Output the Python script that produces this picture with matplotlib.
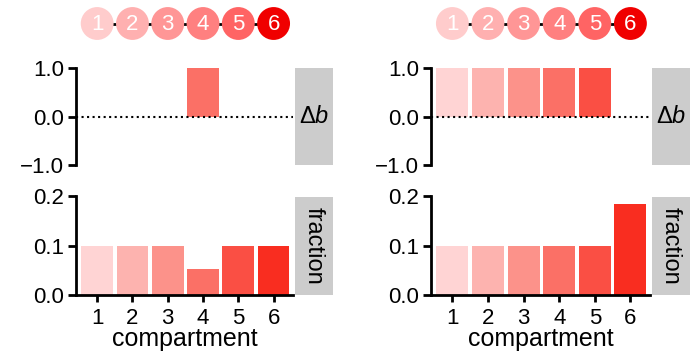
"""
Two cases of compartment boost (delta b) and resulting fraction,
with numbered compartment markers above each panel.
"""

import numpy as np
import matplotlib
matplotlib.use('Agg')
import matplotlib.pyplot as plt
from matplotlib.ticker import FuncFormatter

plt.rcParams['font.family'] = ['Liberation Sans', 'DejaVu Sans']
plt.rcParams['mathtext.fontset'] = 'custom'
plt.rcParams['mathtext.rm'] = 'Liberation Sans'
plt.rcParams['mathtext.it'] = 'Liberation Sans:italic'

# data
compartments = [1, 2, 3, 4, 5, 6]
delta_b_left = [0, 0, 0, 1, 0, 0]
delta_b_right = [1, 1, 1, 1, 1, 0]
fraction_left = [0.1, 0.1, 0.1, 0.053, 0.1, 0.1]
fraction_right = [0.1, 0.1, 0.1, 0.1, 0.1, 0.184]

bar_colors = ['#FFD4D4', '#FDB3AF', '#FC928A', '#FB7066', '#FA4F44', '#F92D20']
circle_colors = ['#FFCCCC', '#FFB0B0', '#FF9696', '#FF8080', '#FF6464', '#F00000']

W, H = 700, 361
FS = 16
fig = plt.figure(figsize=(7, 3.61), dpi=100)


def px_axes(x0, y0, x1, y1):
    """Axes from pixel box (top-left origin)."""
    return fig.add_axes([x0 / W, 1 - y1 / H, (x1 - x0) / W, (y1 - y0) / H])


def fmt(v, pos):
    return f'{v:.1f}'.replace('-', '\u2212')


def style_left(ax):
    for s in ['top', 'right', 'bottom']:
        ax.spines[s].set_visible(False)
    ax.spines['left'].set_linewidth(2)
    ax.tick_params(axis='y', direction='out', length=5.5, width=2,
                   labelsize=FS, pad=3)
    ax.yaxis.set_major_formatter(FuncFormatter(fmt))


def strip(x0, y0, x1, y1, label, rot):
    sax = px_axes(x0, y0, x1, y1)
    sax.set_facecolor('#CCCCCC')
    for s in sax.spines.values():
        s.set_visible(False)
    sax.set_xticks([])
    sax.set_yticks([])
    sax.text(0.5, 0.5, label, fontsize=17, rotation=rot, ha='center',
             va='center', transform=sax.transAxes)


def panel(x0, x1, xs, delta, frac):
    xlim = (0.4, 6.55)

    # compartment markers
    cax = px_axes(x0, 5, x1, 42)
    cax.set_xlim(*xlim)
    cax.set_ylim(-1, 1)
    cax.axis('off')
    cax.plot([1, 6], [0, 0], color='k', lw=2, zorder=1)
    cax.scatter(compartments, np.zeros(6), s=560, c=circle_colors,
                edgecolors='none', zorder=2)
    for c in compartments:
        cax.text(c, -0.05, str(c), color='white', fontsize=FS,
                 ha='center', va='center', zorder=3)

    # delta b
    ax = px_axes(x0, 68, x1, 165)
    ax.bar(compartments, delta, width=0.9, color=bar_colors, zorder=2)
    ax.axhline(0, color='k', ls=':', lw=1.5, zorder=3)
    ax.set_xlim(*xlim)
    ax.set_ylim(-1, 1)
    ax.set_yticks([-1, 0, 1])
    ax.set_xticks([])
    style_left(ax)
    strip(xs, 68, xs + 38, 165, r'$\Delta b$', 0)

    # fraction
    ax2 = px_axes(x0, 196, x1, 295)
    ax2.bar(compartments, frac, width=0.9, color=bar_colors)
    ax2.set_xlim(*xlim)
    ax2.set_ylim(0, 0.2)
    ax2.set_yticks([0, 0.1, 0.2])
    ax2.set_xticks(compartments)
    style_left(ax2)
    ax2.spines['bottom'].set_visible(True)
    ax2.spines['bottom'].set_linewidth(2)
    ax2.tick_params(axis='x', direction='out', length=5, width=2,
                    labelsize=FS, pad=4)
    ax2.set_xlabel('compartment', fontsize=18, labelpad=-1)
    strip(xs, 197, xs + 38, 295, 'fraction', 270)


panel(76, 293, 295, delta_b_left, fraction_left)
panel(431, 650, 652, delta_b_right, fraction_right)

fig.savefig('out.png', dpi=100, facecolor='white')
